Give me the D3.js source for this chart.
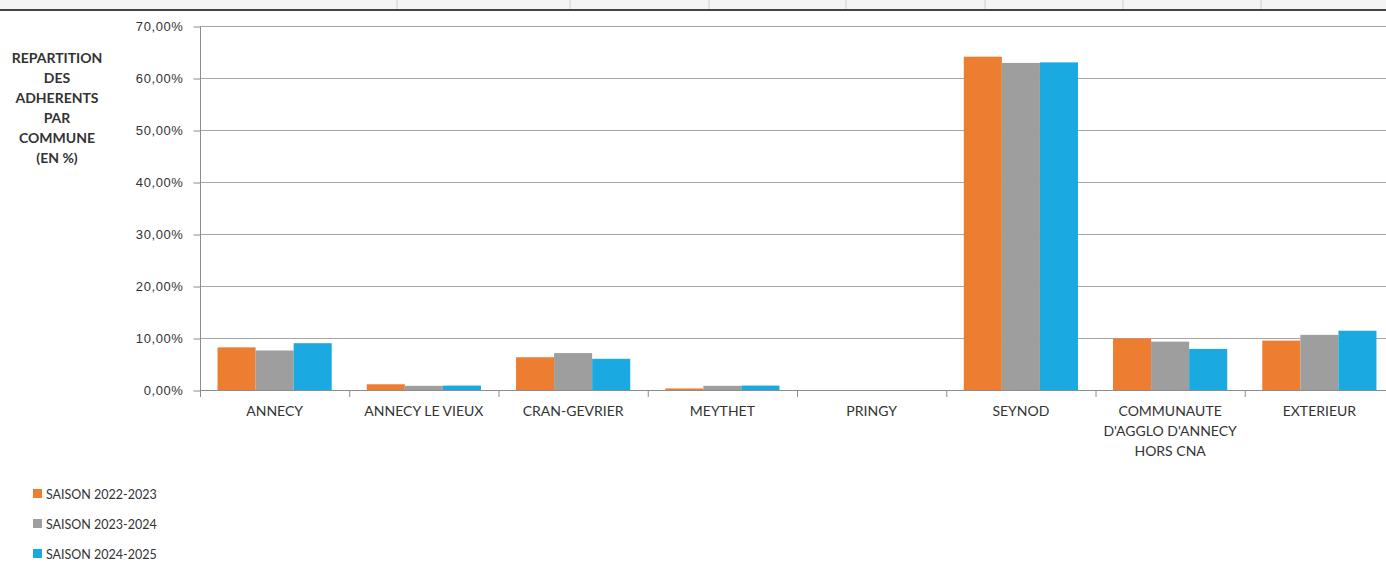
<!DOCTYPE html>
<html>
<head>
<meta charset="utf-8">
<script src="https://cdn.jsdelivr.net/npm/d3@7"></script>
<style>
  body { margin: 0; background: #fff; }
  svg { display: block; font-family: Lato, "Open Sans", sans-serif; }
</style>
</head>
<body>
<svg id="chart" width="1386" height="565"></svg>
<script>
const communes = ['ANNECY', 'ANNECY LE VIEUX', 'CRAN-GEVRIER', 'MEYTHET', 'PRINGY', 'SEYNOD',
  "COMMUNAUTE\nD'AGGLO D'ANNECY\nHORS CNA", 'EXTERIEUR'];
const saisons = ['SAISON 2022-2023', 'SAISON 2023-2024', 'SAISON 2024-2025'];
const saison2022 = [8.2, 1.1, 6.3, 0.3, 0, 64.1, 9.9, 9.5];
const saison2023 = [7.6, 0.8, 7.1, 0.8, 0, 62.9, 9.3, 10.6];
const saison2024 = [9.0, 0.85, 6.0, 0.85, 0, 63.0, 7.9, 11.4];
const yTicks = [0, 10, 20, 30, 40, 50, 60, 70];
const titleLines = ['REPARTITION', 'DES', 'ADHERENTS', 'PAR', 'COMMUNE', '(EN %)'];
const colors = ['#ED7D31', '#9E9E9E', '#1BA9E1'];

const series = [saison2022, saison2023, saison2024];
const svg = d3.select('#chart');

// bandeau du tableau en haut
const topStrip = svg.append('g');
topStrip.append('rect').attr('x', 0).attr('y', 0).attr('width', 1386).attr('height', 9).attr('fill', '#f4f4f4');
[397, 570, 709, 846, 985, 1123, 1261].forEach(x => {
  topStrip.append('line').attr('x1', x).attr('x2', x).attr('y1', 0).attr('y2', 9)
    .attr('stroke', '#cfcfcf');
});
topStrip.append('line').attr('x1', 0).attr('x2', 1386).attr('y1', 10).attr('y2', 10)
  .attr('stroke', '#444').attr('stroke-width', 2);

const x0 = d3.scaleBand().domain(d3.range(communes.length)).range([200, 1394]).paddingInner(0.235).paddingOuter(0.1175);
const x1 = d3.scaleBand().domain(d3.range(saisons.length)).range([0, x0.bandwidth()]);
const y = d3.scaleLinear().domain([0, 70]).range([390, 26]);

// grille
svg.append('g').selectAll('line').data(yTicks.filter(d => d > 0)).join('line')
  .attr('x1', 200).attr('x2', 1386)
  .attr('y1', d => y(d) + 0.5).attr('y2', d => y(d) + 0.5)
  .attr('stroke', '#a6a6a6').attr('stroke-width', 1);

// barres
svg.append('g').selectAll('g').data(series).join('g')
  .attr('fill', (d, i) => colors[i])
  .each(function (vals, si) {
    d3.select(this).selectAll('rect').data(vals).join('rect')
      .attr('x', (d, ci) => x0(ci) + x1(si))
      .attr('width', x1.bandwidth())
      .attr('y', d => y(d))
      .attr('height', d => y(0) - y(d));
  });

// axe Y
const yAxis = svg.append('g').attr('transform', 'translate(200.5,0.5)')
  .call(d3.axisLeft(y).tickValues(yTicks).tickSize(7).tickPadding(10)
    .tickFormat(d => d3.format('.2f')(d).replace('.', ',') + '%'));
yAxis.select('.domain').attr('stroke', '#8c8c8c').attr('d', 'M0,26V390');
yAxis.selectAll('.tick line').attr('stroke', '#8c8c8c');
yAxis.selectAll('text').attr('fill', '#333').style('font-size', '13px').style('letter-spacing', '0.6px');

// axe X
const xAxisG = svg.append('g');
xAxisG.append('line').attr('x1', 200).attr('x2', 1386).attr('y1', 390.5).attr('y2', 390.5)
  .attr('stroke', '#8c8c8c');
const bandStep = x0.step();
xAxisG.selectAll('line.tk').data(d3.range(communes.length + 1)).join('line')
  .attr('class', 'tk')
  .attr('x1', i => 200.5 + i * bandStep).attr('x2', i => 200.5 + i * bandStep)
  .attr('y1', 390).attr('y2', 397).attr('stroke', '#8c8c8c');
xAxisG.selectAll('text').data(communes).join('text')
  .attr('text-anchor', 'middle')
  .attr('fill', '#333')
  .style('font-size', '14px')
  .each(function (d, i) {
    const t = d3.select(this);
    d.split('\n').forEach((line, k) => {
      t.append('tspan').attr('x', x0(i) + x0.bandwidth() / 2).attr('y', 416 + k * 20).text(line);
    });
  });

// titre
svg.append('text')
  .attr('text-anchor', 'middle')
  .attr('fill', '#333')
  .style('font-size', '14px').style('font-weight', 'bold')
  .selectAll('tspan').data(titleLines).join('tspan')
  .attr('x', 57).attr('y', (d, i) => 63 + i * 20)
  .text(d => d);

// légende
const legend = svg.append('g').selectAll('g').data(saisons).join('g')
  .attr('transform', (d, i) => `translate(33, ${489 + i * 30})`);
legend.append('rect').attr('width', 9).attr('height', 9).attr('fill', (d, i) => colors[i]);
legend.append('text').attr('x', 13).attr('y', 9.5)
  .attr('fill', '#333').style('font-size', '12.5px')
  .text(d => d);
</script>
</body>
</html>
